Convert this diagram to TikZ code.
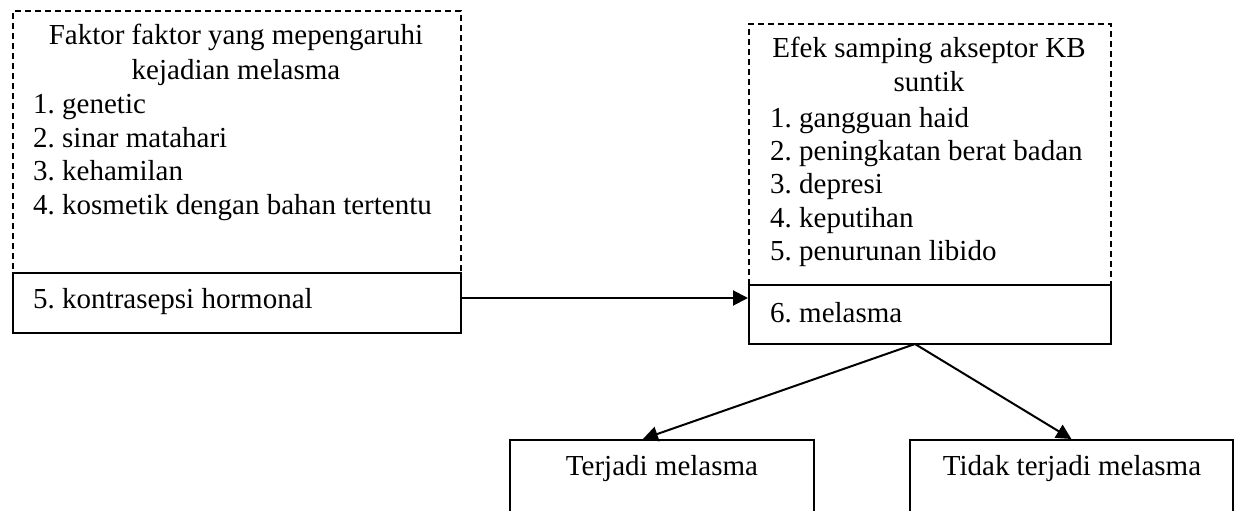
\documentclass[tikz,border=0pt]{standalone}
\usepackage{fontspec}
\setmainfont{Liberation Serif}
\usetikzlibrary{arrows.meta}
\begin{document}
\frenchspacing
\begin{tikzpicture}[x=1pt,y=-1pt,
  box/.style={draw,line width=1.8pt,inner sep=0pt,anchor=north west},
  dbox/.style={box,dash pattern=on 6pt off 4pt},
  txt/.style={inner sep=0pt,font=\fontsize{29}{34}\selectfont},
  arr/.style={line width=2pt,-{Triangle[length=15pt,width=15pt]}}]
\useasboundingbox (0,0) rectangle (1239,511);
\fill[white] (0,0) rectangle (1239,511);
% boxes
\node[dbox,minimum width=448,minimum height=262] (fk) at (12,10) {};
\node[box,minimum width=448,minimum height=60] (kh) at (12,272) {};
\node[dbox,minimum width=362,minimum height=261] (ef) at (748,23) {};
\node[box,minimum width=362,minimum height=59] (ml) at (748,284) {};
\node[box,minimum width=304,minimum height=90] (tj) at (509,439) {};
\node[box,minimum width=323,minimum height=90] (tt) at (909,439) {};
% left texts
\node[txt,anchor=base] (fkt1) at (236,45) {Faktor faktor yang mepengaruhi};
\node[txt,anchor=base] (fkt2) at (236,80) {kejadian melasma};
\node[txt,anchor=base west] (fk1) at (33,113) {1. genetic};
\node[txt,anchor=base west] (fk2) at (33,147) {2. sinar matahari};
\node[txt,anchor=base west] (fk3) at (33,180) {3. kehamilan};
\node[txt,anchor=base west] (fk4) at (33,214) {4. kosmetik dengan bahan tertentu};
\node[txt,anchor=base west] (fk5) at (33,308) {5. kontrasepsi hormonal};
% right texts
\node[txt,anchor=base] (eft1) at (929,58) {Efek samping akseptor KB};
\node[txt,anchor=base] (eft2) at (929,92) {suntik};
\node[txt,anchor=base west] (ef1) at (770,127) {1. gangguan haid};
\node[txt,anchor=base west] (ef2) at (770,160) {2. peningkatan berat badan};
\node[txt,anchor=base west] (ef3) at (770,193) {3. depresi};
\node[txt,anchor=base west] (ef4) at (770,227) {4. keputihan};
\node[txt,anchor=base west] (ef5) at (770,260) {5. penurunan libido};
\node[txt,anchor=base west] (ef6) at (770,322) {6. melasma};
% bottom texts
\node[txt,anchor=base] (tjt) at (662,475) {Terjadi melasma};
\node[txt,anchor=base] (ttt) at (1072,475) {Tidak terjadi melasma};
% connectors
\coordinate (a0) at (kh.east |- 0,298);
\draw[arr] (a0) -- (a0 -| ml.west);
\coordinate (sp) at (915,344);
\draw[arr] (sp) -- ([xshift=-19pt]tj.north);
\draw[arr] (sp) -- (tt.north);
\end{tikzpicture}
\end{document}
